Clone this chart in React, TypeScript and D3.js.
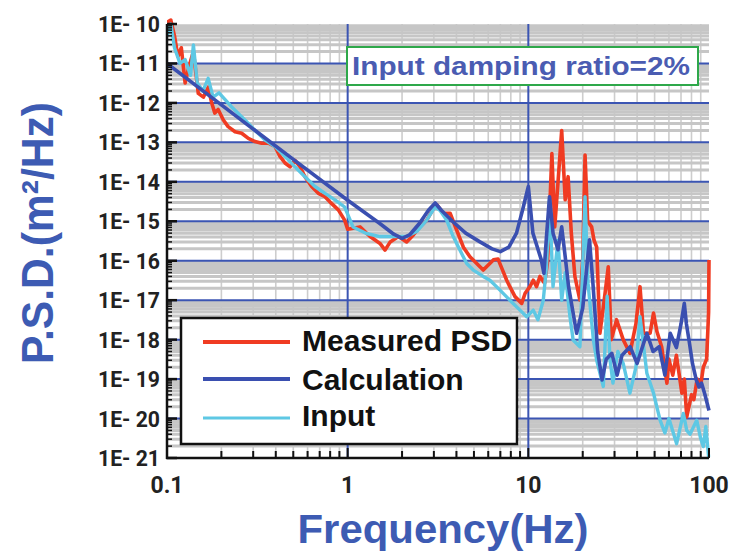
import React, { useEffect, useRef } from "react";
import * as d3 from "d3";

// Calculation (blue)
const calcFreq = [0.1, 0.2, 0.5, 1.0, 1.5, 1.8, 2.0, 2.2, 2.5, 2.8, 3.05, 3.3, 3.8, 4.5, 5.4, 6.3, 7.0, 7.8, 8.6, 9.3, 10.0, 10.6, 11.8, 12.2, 12.6, 13.1, 13.7, 14.6, 15.3, 16.0, 16.7, 18.5, 20.0, 21.8, 22.8, 24.2, 25.6, 27.0, 29.0, 31.0, 33.0, 36.6, 40.0, 45.3, 49.0, 53.0, 57.0, 61.0, 66.0, 70.0, 73.0, 75.0, 77.5, 81.0, 85.0, 88.0, 91.0, 95.0, 100];
const calcPsd = [1e-11, 8.9e-13, 3.7e-14, 3.4e-15, 8.9e-16, 4.7e-16, 3.7e-16, 4.5e-16, 8.9e-16, 1.9e-15, 2.9e-15, 1.9e-15, 1e-15, 5e-16, 3e-16, 2e-16, 1.7e-16, 2.2e-16, 5e-16, 1.95e-15, 7.6e-15, 5e-16, 1.05e-16, 4.8e-17, 4e-16, 4.2e-15, 5e-16, 1.9e-16, 7.2e-16, 1.26e-16, 2.2e-17, 1.45e-18, 6.3e-18, 3.4e-16, 2.5e-17, 5e-19, 9.5e-20, 3.2e-19, 4.5e-19, 1.26e-19, 4e-19, 6.6e-19, 2.5e-19, 1.45e-18, 5e-19, 6.6e-19, 1.26e-19, 1.45e-18, 6.3e-19, 2.5e-18, 8.3e-18, 2.5e-18, 9.8e-19, 2.5e-19, 9.5e-20, 6.3e-20, 7.9e-20, 4e-20, 1.6e-20];

// Measured PSD (red)
const measuredFreq = [0.1, 0.105, 0.11, 0.115, 0.12, 0.126, 0.132, 0.14, 0.149, 0.159, 0.169, 0.177, 0.184, 0.192, 0.205, 0.218, 0.238, 0.259, 0.282, 0.307, 0.334, 0.364, 0.396, 0.422, 0.45, 0.48, 0.511, 0.545, 0.58, 0.632, 0.688, 0.749, 0.816, 0.888, 0.962, 1.0, 1.17, 1.33, 1.51, 1.61, 1.72, 1.91, 2.12, 2.31, 2.51, 2.74, 2.98, 3.12, 3.38, 3.69, 4.01, 4.37, 4.75, 5.18, 5.63, 6.4, 6.8, 7.2, 7.59, 7.9, 8.44, 9.19, 9.6, 10.2, 10.65, 11.1, 11.6, 12.3, 12.8, 13.5, 14.0, 14.6, 15.3, 16.0, 16.6, 17.3, 18.1, 19.3, 20.0, 20.6, 21.3, 22.4, 23.1, 23.9, 24.9, 26.3, 27.7, 28.8, 30.8, 33.5, 36.5, 39.4, 41.5, 43.4, 47.2, 49.3, 51.5, 54.7, 58.5, 60.0, 63.0, 66.0, 70.8, 73.0, 75.3, 80.0, 82.4, 86.0, 89.8, 93.0, 97.0, 99.5, 100];
const measuredPsd = [1.1e-10, 1.26e-10, 5e-11, 1.5e-11, 2.5e-11, 3.2e-12, 8e-12, 2e-11, 1.74e-12, 1.4e-12, 2.5e-12, 9.8e-13, 5.5e-13, 6.8e-13, 3.7e-13, 2.5e-13, 1.86e-13, 1.7e-13, 1.26e-13, 1.05e-13, 9.5e-14, 9.5e-14, 7.9e-14, 4.4e-14, 3e-14, 2.4e-14, 3.5e-14, 2.4e-14, 1.35e-14, 7.6e-15, 5.1e-15, 4.2e-15, 2.8e-15, 1.95e-15, 1.07e-15, 6.3e-16, 7.2e-16, 4.1e-16, 2.75e-16, 1.86e-16, 3e-16, 4.1e-16, 3e-16, 4.5e-16, 7.2e-16, 1.07e-15, 2.1e-15, 2.6e-15, 1.6e-15, 1.6e-15, 6e-16, 2.2e-16, 1.26e-16, 8.5e-17, 5.8e-17, 1.05e-16, 1.1e-16, 5.8e-17, 3.2e-17, 2.2e-17, 1.23e-17, 8.3e-18, 1.5e-17, 2.2e-17, 3.2e-17, 2.2e-17, 4e-17, 2.7e-17, 1e-16, 5.2e-14, 7.2e-16, 1e-14, 2e-13, 3.5e-15, 1.35e-14, 4.9e-16, 4e-17, 1e-17, 1e-16, 4.8e-14, 1e-15, 7.2e-16, 3.3e-16, 2.2e-16, 1.45e-18, 1e-17, 7e-17, 1e-18, 3.2e-18, 1e-18, 4.5e-19, 2.5e-18, 2.2e-17, 1.45e-18, 1.45e-18, 4.7e-18, 1.6e-18, 6.6e-19, 7.9e-20, 3.2e-19, 1.26e-19, 4e-19, 4.4e-20, 1e-19, 1.1e-20, 4e-20, 3e-20, 1e-19, 6.5e-20, 2e-19, 3.2e-19, 5e-18, 1.05e-16];

// Input (cyan)
const inputFreq = [0.1, 0.105, 0.11, 0.118, 0.126, 0.135, 0.14, 0.147, 0.158, 0.169, 0.18, 0.194, 0.228, 0.27, 0.307, 0.349, 0.396, 0.45, 0.511, 0.58, 0.659, 0.749, 0.851, 0.962, 1.07, 1.27, 1.51, 1.79, 2.12, 2.41, 2.74, 3.04, 3.24, 3.53, 3.84, 4.18, 4.56, 4.96, 5.63, 6.13, 6.97, 7.9, 8.99, 9.79, 10.65, 11.3, 12.1, 12.6, 13.1, 13.7, 14.6, 15.3, 16.0, 17.0, 17.7, 19.3, 20.6, 21.4, 22.9, 23.9, 26.0, 27.3, 28.3, 29.4, 31.3, 33.5, 36.5, 39.4, 41.5, 45.3, 49.3, 53.6, 57.0, 60.0, 66.2, 72.1, 75.3, 78.5, 85.5, 89.8, 93.0, 96.0, 99.5];
const inputPsd = [5e-11, 1e-10, 2.5e-11, 1e-11, 1.26e-11, 5e-12, 2.95e-11, 3.2e-12, 2e-12, 4.2e-12, 1.4e-12, 1.8e-12, 7.9e-13, 3.7e-13, 2e-13, 1.15e-13, 7.8e-14, 4.4e-14, 2.4e-14, 1.35e-14, 7.6e-15, 5.1e-15, 3.5e-15, 2.3e-15, 7.2e-16, 4.9e-16, 4.1e-16, 4.1e-16, 4.1e-16, 5.5e-16, 1.07e-15, 2.3e-15, 1.9e-15, 1.07e-15, 4.1e-16, 1.86e-16, 8.5e-17, 5.8e-17, 4e-17, 3.2e-17, 1.8e-17, 1e-17, 5.6e-18, 3.8e-18, 5.6e-18, 3.2e-18, 1e-17, 7e-17, 3.5e-15, 2.2e-17, 3.3e-16, 1e-17, 5e-17, 3.8e-18, 9.8e-19, 6.6e-19, 4.2e-15, 2.7e-17, 1e-18, 3e-19, 6.5e-20, 1.26e-17, 3.2e-19, 7.9e-20, 5e-19, 2.5e-19, 4.4e-20, 2e-19, 3.8e-18, 1.4e-19, 4.4e-20, 9.1e-21, 4.3e-21, 1e-20, 2.3e-21, 1.35e-20, 5e-21, 4e-21, 9.1e-21, 3.2e-21, 1.95e-21, 6.3e-21, 1.07e-21];

const yTickExp = [-10, -11, -12, -13, -14, -15, -16, -17, -18, -19, -20, -21];
const yTickLabels = ["1E- 10", "1E- 11", "1E- 12", "1E- 13", "1E- 14", "1E- 15", "1E- 16", "1E- 17", "1E- 18", "1E- 19", "1E- 20", "1E- 21"];
const xTickValues = [0.1, 1, 10, 100];
const xTickLabels = ["0.1", "1", "10", "100"];

const legendNames = ["Measured PSD", "Calculation", "Input"];
const colors = { measured: "#f03b22", calc: "#3a4fb0", input: "#5ec8e4" };

const App = () => {
  const ref = useRef(null);

  useEffect(() => {
    const svg = d3.select(ref.current);
    svg.selectAll("*").remove();

    const left = 167, right = 709, top = 24, bottom = 458;
    const x = d3.scaleLog().domain([0.1, 100]).range([left, right]);
    const y = d3.scaleLog().domain([1e-10, 1e-21]).range([top, bottom]);

    const minorX = [];
    for (let e = -1; e <= 1; e++) for (let m = 2; m <= 9; m++) minorX.push(m * Math.pow(10, e));
    const minorY = [];
    for (let e = -21; e < -10; e++) for (let m = 2; m <= 9; m++) minorY.push(m * Math.pow(10, e));
    const majorY = yTickExp.map(e => Math.pow(10, e));

    const grid = svg.append("g");
    grid.selectAll("line.vx").data(minorX).enter().append("line")
      .attr("x1", d => x(d)).attr("x2", d => x(d)).attr("y1", top).attr("y2", bottom)
      .attr("stroke", "#cdcdcd").attr("stroke-width", 1.6);
    grid.selectAll("line.hy").data(minorY).enter().append("line")
      .attr("x1", left).attr("x2", right).attr("y1", d => y(d)).attr("y2", d => y(d))
      .attr("stroke", "#c6c6c6").attr("stroke-width", 3);
    grid.selectAll("line.my").data(majorY.slice(1, -1)).enter().append("line")
      .attr("x1", left).attr("x2", right).attr("y1", d => y(d)).attr("y2", d => y(d))
      .attr("stroke", "#3b55b3").attr("stroke-width", 2);
    grid.selectAll("line.mx").data([1, 10]).enter().append("line")
      .attr("x1", d => x(d)).attr("x2", d => x(d)).attr("y1", top).attr("y2", bottom)
      .attr("stroke", "#3b55b3").attr("stroke-width", 2);

    svg.append("clipPath").attr("id", "plotclip").append("rect")
      .attr("x", left).attr("y", 16).attr("width", right - left + 2).attr("height", bottom - 16);

    const line = d3.line().x(d => x(d[0])).y(d => y(d[1]));
    const series = [
      { f: measuredFreq, v: measuredPsd, c: colors.measured, w: 3.6 },
      { f: inputFreq, v: inputPsd, c: colors.input, w: 3.4 },
      { f: calcFreq, v: calcPsd, c: colors.calc, w: 3.6 },
    ];
    const lines = svg.append("g").attr("clip-path", "url(#plotclip)");
    series.forEach(s => {
      lines.append("path")
        .attr("d", line(s.f.map((f, i) => [f, s.v[i]])))
        .attr("fill", "none").attr("stroke", s.c).attr("stroke-width", s.w)
        .attr("stroke-linejoin", "round");
    });

    // axes
    const ax = svg.append("g").attr("stroke", "#111");
    ax.append("line").attr("x1", left).attr("x2", left).attr("y1", top).attr("y2", bottom + 1).attr("stroke-width", 2.5);
    ax.append("line").attr("x1", left - 1).attr("x2", right).attr("y1", bottom).attr("y2", bottom).attr("stroke-width", 2.5);
    ax.selectAll("line.ty").data(majorY).enter().append("line")
      .attr("x1", left).attr("x2", left + 10).attr("y1", d => y(d)).attr("y2", d => y(d)).attr("stroke-width", 2.5);
    ax.selectAll("line.tym").data(minorY).enter().append("line")
      .attr("x1", left).attr("x2", left + 5).attr("y1", d => y(d)).attr("y2", d => y(d)).attr("stroke-width", 1.5);
    ax.selectAll("line.tx").data(xTickValues).enter().append("line")
      .attr("x1", d => x(d)).attr("x2", d => x(d)).attr("y1", bottom).attr("y2", bottom - 10).attr("stroke-width", 2);
    ax.selectAll("line.txm").data(minorX).enter().append("line")
      .attr("x1", d => x(d)).attr("x2", d => x(d)).attr("y1", bottom).attr("y2", bottom - 7).attr("stroke-width", 2);

    svg.selectAll("text.yl").data(yTickExp).enter().append("text")
      .attr("x", 160).attr("y", d => y(Math.pow(10, d)) + 8)
      .attr("text-anchor", "end")
      .attr("font-family", "Roboto, 'Liberation Sans', sans-serif")
      .attr("font-weight", 700).attr("font-size", 22).attr("fill", "#222")
      .attr("textLength", 62).attr("lengthAdjust", "spacingAndGlyphs")
      .text((d, i) => yTickLabels[i]);

    svg.selectAll("text.xl").data(xTickValues).enter().append("text")
      .attr("x", d => x(d)).attr("y", 493)
      .attr("text-anchor", "middle")
      .attr("font-family", "Roboto, 'Liberation Sans', sans-serif")
      .attr("font-weight", 700).attr("font-size", 23).attr("fill", "#222")
      .text((d, i) => xTickLabels[i]);

    svg.append("text")
      .attr("x", 443).attr("y", 543).attr("text-anchor", "middle")
      .attr("font-family", "'Liberation Sans', Arial, sans-serif").attr("font-weight", "bold")
      .attr("font-size", 40).attr("fill", "#3d5bb3")
      .attr("textLength", 291).attr("lengthAdjust", "spacingAndGlyphs")
      .text("Frequency(Hz)");

    svg.append("text")
      .attr("transform", "translate(53,233) rotate(-90)").attr("text-anchor", "middle")
      .attr("font-family", "'Liberation Sans', Arial, sans-serif").attr("font-weight", "bold")
      .attr("font-size", 45).attr("fill", "#3d5bb3")
      .attr("textLength", 262).attr("lengthAdjust", "spacingAndGlyphs")
      .text("P.S.D.(m²/Hz)");

    // annotation
    svg.append("rect").attr("x", 347).attr("y", 47).attr("width", 351).attr("height", 38)
      .attr("fill", "#fff").attr("stroke", "#2ea84a").attr("stroke-width", 2);
    svg.append("text").attr("x", 352).attr("y", 75)
      .attr("font-family", "'Liberation Sans', Arial, sans-serif").attr("font-weight", "bold")
      .attr("font-size", 26).attr("fill", "#4a5cb2")
      .attr("textLength", 338).attr("lengthAdjust", "spacingAndGlyphs")
      .text("Input damping ratio=2%");

    // legend
    const lg = svg.append("g");
    lg.append("rect").attr("x", 181).attr("y", 318).attr("width", 336).attr("height", 126)
      .attr("fill", "#fff").attr("stroke", "#111").attr("stroke-width", 2.5);
    const legendColors = [colors.measured, colors.calc, colors.input];
    const legendLineY = [342, 379, 418];
    const legendTextY = [351, 390, 426];
    legendNames.forEach((name, i) => {
      lg.append("line").attr("x1", 203).attr("x2", 290).attr("y1", legendLineY[i]).attr("y2", legendLineY[i])
        .attr("stroke", legendColors[i]).attr("stroke-width", i === 2 ? 3 : 4);
      lg.append("text").attr("x", 302).attr("y", legendTextY[i])
        .attr("font-family", "'Liberation Sans', Arial, sans-serif").attr("font-weight", "bold")
        .attr("font-size", 30).attr("fill", "#111")
        .text(name);
    });
  }, []);

  return (
    <svg
      ref={ref}
      width={730}
      height={551}
      style={{ position: "absolute", left: 0, top: 0, background: "#fff" }}
    />
  );
};

export default App;
